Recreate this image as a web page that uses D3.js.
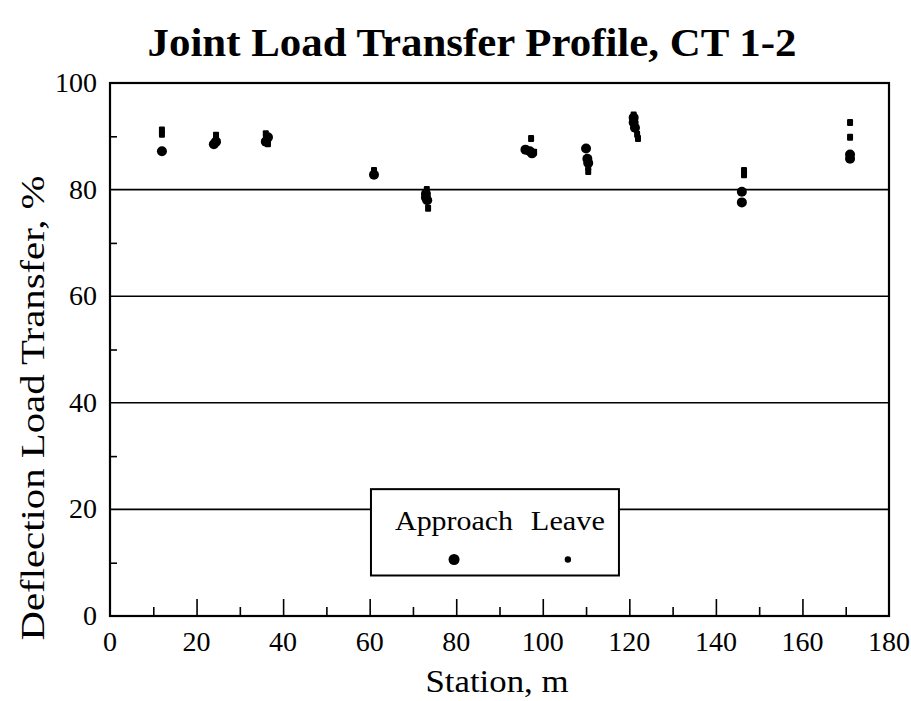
<!DOCTYPE html>
<html>
<head>
<meta charset="utf-8">
<script src="https://cdn.jsdelivr.net/npm/d3@7"></script>
<style>
  html, body { margin: 0; padding: 0; background: #fff; overflow: hidden; }
  svg { display: block; }
  text { font-family: "Liberation Serif", "DejaVu Serif", serif; fill: #000; }
</style>
</head>
<body>
<div id="chart"></div>
<script>
// Approach readings (large dots)
const approachStation = [12, 24, 24.5, 36, 36.5, 61, 73, 73, 73.3, 96, 97.5, 97, 110, 110.3, 110.5, 121, 121, 121.3, 146, 146, 171, 171];
const approachValue   = [87.2, 88.5, 89, 89, 89.8, 82.8, 79.2, 78.5, 78, 87.5, 86.8, 87.2, 87.7, 85.8, 85, 93.5, 92.6, 91.6, 79.6, 77.6, 86.6, 85.8];
// Leave readings (small marks)
const leaveStation = [12, 12, 24.5, 24.5, 36, 36.5, 61, 73.2, 73.2, 73.5, 97.3, 98, 110.5, 110.5, 121, 121.8, 122, 146.5, 146.5, 171, 171];
const leaveValue   = [91.2, 90.4, 90.2, 89.2, 90.5, 88.6, 83.6, 80, 79.5, 76.5, 89.6, 87, 84.2, 83.4, 94, 90.4, 89.6, 83.6, 82.8, 92.6, 89.8];

const xTicks = [0, 20, 40, 60, 80, 100, 120, 140, 160, 180];
const yTicks = [0, 20, 40, 60, 80, 100];
const legendItems = ["Approach", "Leave"];

const width = 911, height = 701;
const margin = { top: 83, right: 22, bottom: 85, left: 110 };
const innerWidth = width - margin.left - margin.right;
const innerHeight = height - margin.top - margin.bottom;

const svg = d3.select('#chart')
  .append('svg')
  .attr('width', width)
  .attr('height', height);

const g = svg.append('g')
  .attr('transform', `translate(${margin.left},${margin.top})`);

const x = d3.scaleLinear().domain([0, 180]).range([0, innerWidth]);
const y = d3.scaleLinear().domain([0, 100]).range([innerHeight, 0]);

// Horizontal grid lines
g.append('g')
  .selectAll('line')
  .data(yTicks.filter(d => d > 0 && d < 100))
  .enter()
  .append('line')
  .attr('x1', 0)
  .attr('x2', innerWidth)
  .attr('y1', d => y(d))
  .attr('y2', d => y(d))
  .attr('stroke', '#000')
  .attr('stroke-width', 1.6);

// Bottom axis: major ticks at 20, minor at 10, pointing up into the plot
const xAxis = g.append('g')
  .attr('transform', `translate(0,${innerHeight})`)
  .call(d3.axisBottom(x).tickValues(d3.range(10, 180, 10)).tickSizeInner(-9).tickSizeOuter(0).tickFormat(''));
xAxis.selectAll('.tick line')
  .attr('y2', d => d % 20 === 0 ? -17 : -9)
  .attr('stroke-width', 1.6);
xAxis.selectAll('.tick text').remove();
xAxis.select('.domain').remove();

g.append('g')
  .selectAll('text')
  .data(xTicks)
  .enter()
  .append('text')
  .attr('x', d => x(d))
  .attr('y', innerHeight + 35)
  .attr('text-anchor', 'middle')
  .style('font-size', '28px')
  .text(d => d);

// Left axis minor ticks pointing right
const yAxis = g.append('g')
  .call(d3.axisLeft(y).tickValues([10, 30, 50, 70, 90]).tickSizeInner(-7).tickSizeOuter(0).tickFormat(''));
yAxis.selectAll('.tick line').attr('stroke-width', 1.6);
yAxis.selectAll('.tick text').remove();
yAxis.select('.domain').remove();

g.append('g')
  .selectAll('text')
  .data(yTicks)
  .enter()
  .append('text')
  .attr('x', -13)
  .attr('y', d => y(d) + 9)
  .attr('text-anchor', 'end')
  .style('font-size', '28px')
  .text(d => d);

// Frame
g.append('rect')
  .attr('width', innerWidth)
  .attr('height', innerHeight)
  .attr('fill', 'none')
  .attr('stroke', '#000')
  .attr('stroke-width', 2.2);

// Legend box
const legend = g.append('g');
legend.append('rect')
  .attr('x', x(60.3))
  .attr('y', y(23.8))
  .attr('width', x(57.3))
  .attr('height', y(83.8))
  .attr('fill', '#fff')
  .attr('stroke', '#000')
  .attr('stroke-width', 2);
const legendX = [x(79.5), x(105.8)];
const legendW = [118, 74];
legend.selectAll('text')
  .data(legendItems)
  .enter()
  .append('text')
  .attr('x', (d, i) => legendX[i])
  .attr('y', y(16.2))
  .attr('text-anchor', 'middle')
  .attr('textLength', (d, i) => legendW[i])
  .attr('lengthAdjust', 'spacingAndGlyphs')
  .style('font-size', '27px')
  .text(d => d);
legend.append('circle')
  .attr('cx', legendX[0]).attr('cy', y(10.6)).attr('r', 5.5).attr('fill', '#000');
legend.append('circle')
  .attr('cx', legendX[1]).attr('cy', y(10.6)).attr('r', 3.2).attr('fill', '#000');

// Leave marks (small squares)
const leave = leaveStation.map((s, i) => ({ s, v: leaveValue[i] }));
g.append('g')
  .selectAll('rect')
  .data(leave)
  .enter()
  .append('rect')
  .attr('x', d => x(d.s) - 3)
  .attr('y', d => y(d.v) - 3.5)
  .attr('width', 6)
  .attr('height', 7)
  .attr('rx', 1)
  .attr('fill', '#000');

// Approach marks (dots)
const approach = approachStation.map((s, i) => ({ s, v: approachValue[i] }));
g.append('g')
  .selectAll('circle')
  .data(approach)
  .enter()
  .append('circle')
  .attr('cx', d => x(d.s))
  .attr('cy', d => y(d.v))
  .attr('r', 5)
  .attr('fill', '#000');

// Title and axis labels
svg.append('text')
  .attr('x', 472)
  .attr('y', 56)
  .attr('text-anchor', 'middle')
  .attr('textLength', 649)
  .attr('lengthAdjust', 'spacingAndGlyphs')
  .style('font-size', '40px')
  .style('font-weight', 'bold')
  .text('Joint Load Transfer Profile, CT 1-2');

svg.append('text')
  .attr('x', 497)
  .attr('y', 692)
  .attr('text-anchor', 'middle')
  .attr('textLength', 143)
  .attr('lengthAdjust', 'spacingAndGlyphs')
  .style('font-size', '32px')
  .text('Station, m');

svg.append('text')
  .attr('transform', `translate(44,408) rotate(-90)`)
  .attr('text-anchor', 'middle')
  .attr('textLength', 465)
  .attr('lengthAdjust', 'spacingAndGlyphs')
  .style('font-size', '33px')
  .text('Deflection Load Transfer, %');
</script>
</body>
</html>
